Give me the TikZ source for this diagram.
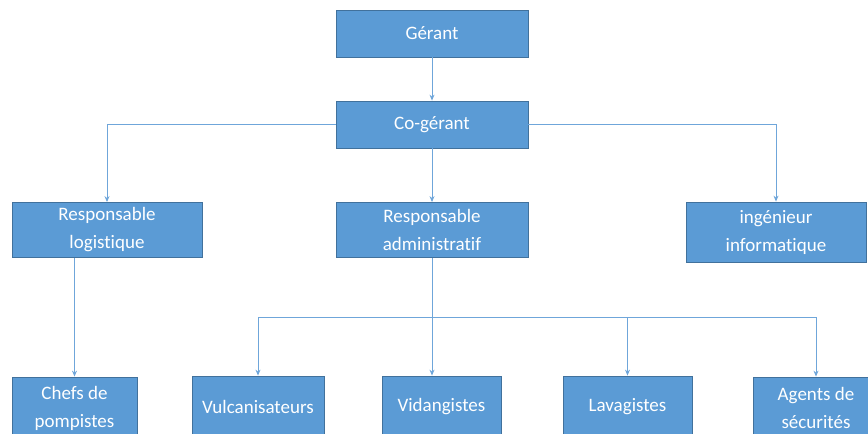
\documentclass[tikz,border=0pt]{standalone}
\usepackage{fontspec}
\setmainfont{Carlito}[Ligatures=NoCommon]
\usetikzlibrary{arrows.meta,positioning}
\definecolor{boxblue}{HTML}{5B9BD5}
\definecolor{boxedge}{HTML}{41719C}
\definecolor{linkblue}{HTML}{6FA6DA}
\tikzset{
    orgbox/.style={draw=boxedge, fill=boxblue, text=white, align=center,
        font=\fontsize{19}{28}\selectfont, inner sep=0pt, line width=0.8pt},
    orgarrow/.style={-{Stealth[length=6pt,width=5pt]}, draw=linkblue, line width=1pt}
}

\begin{document}
\begin{tikzpicture}[x=1pt,y=-1pt]
\clip (0,0) rectangle (868,434);
\node[orgbox, minimum width=192pt, minimum height=47pt] (gerant) at (432,33.5) {Gérant};
\node[orgbox, minimum width=192pt, minimum height=47pt] (cogerant) at (432,124.5) {Co-gérant};
\node[orgbox, minimum width=190pt, minimum height=55pt] (logist) at (107,230) {Responsable\\logistique};
\node[orgbox, minimum width=192pt, minimum height=55pt] (admin) at (432,230) {Responsable\\administratif};
\node[orgbox, minimum width=180pt, minimum height=60pt] (inge) at (776,232) {ingénieur\\informatique};
\node[orgbox, minimum width=125pt, minimum height=62pt] (chefs) at (74.5,408) {Chefs de\\pompistes};
\node[orgbox, minimum width=132pt, minimum height=62pt] (vulc) at (258,407) {Vulcanisateurs};
\node[orgbox, minimum width=119pt, minimum height=62pt] (vid) at (441.5,407) {Vidangistes};
\node[orgbox, minimum width=129pt, minimum height=62pt] (lav) at (627.5,407) {Lavagistes};
\node[orgbox, minimum width=126pt, minimum height=62pt] (agents) at (816,408) {Agents de\\sécurités};
\coordinate (bus) at (432,317);
\draw[orgarrow] (gerant) -- (cogerant);
\draw[orgarrow] (cogerant.west) -| (logist.north);
\draw[orgarrow] (cogerant) -- (admin);
\draw[orgarrow] (cogerant.east) -| (inge.north);
\draw[orgarrow] (logist.south -| chefs) -- (chefs);
\draw[draw=linkblue, line width=1pt] (admin) -- (bus);
\draw[draw=linkblue, line width=1pt] (bus -| vulc) -- (bus -| agents);
\draw[orgarrow] (bus -| vulc) -- (vulc);
\draw[orgarrow] (bus) -- (bus |- vid.north);
\draw[orgarrow] (bus -| lav) -- (lav);
\draw[orgarrow] (bus -| agents) -- (agents);
\end{tikzpicture}
\end{document}
